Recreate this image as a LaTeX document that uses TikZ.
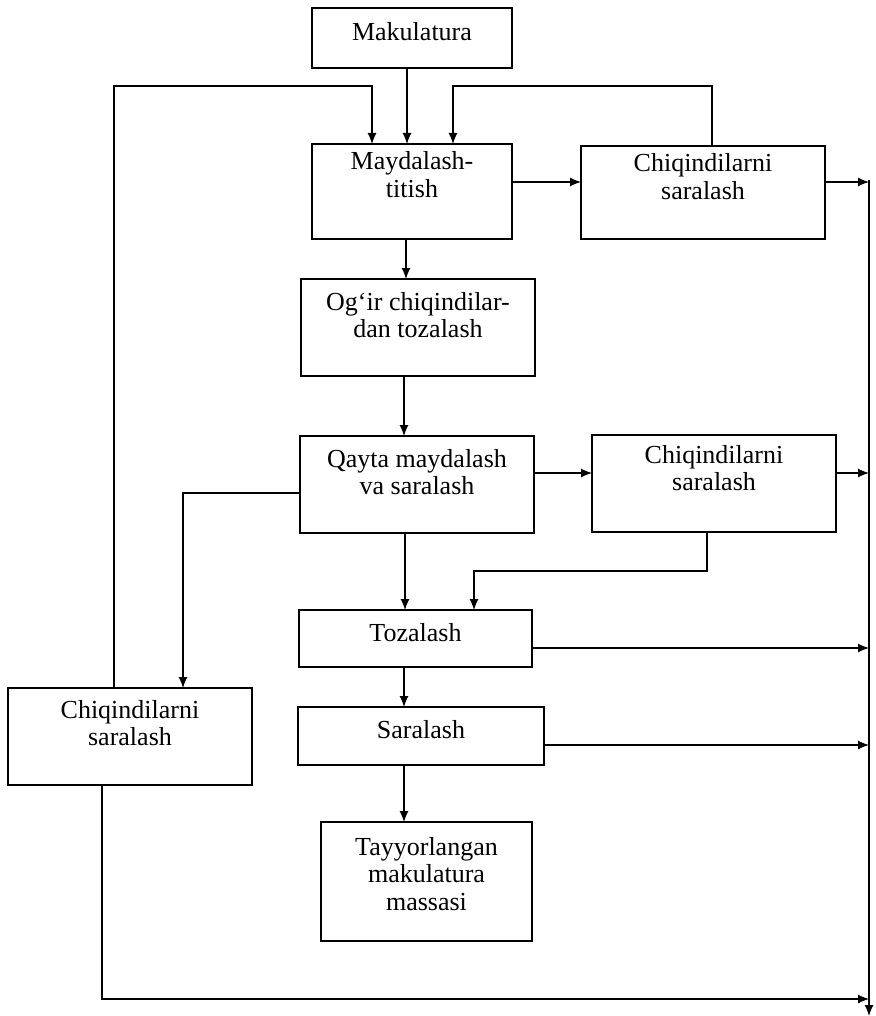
\documentclass[tikz,border=0pt]{standalone}
\usepackage{fontspec}
\setmainfont{Liberation Serif}
\usetikzlibrary{arrows.meta}
\newcommand\flowbox[7]{%
  \node[boxst, anchor=north west] (#1) at (#2,#3)
   {\parbox[c][\dimexpr #5pt-#3pt\relax][t]{\dimexpr #4pt-#2pt\relax}{\centering\rule{0pt}{#6pt}#7}};}
\tikzset{
  boxst/.style={draw, line width=1.2pt, inner sep=0pt, outer sep=0pt,
    font=\fontsize{26}{27.5}\selectfont},
  conn/.style={line width=1.2pt},
  arr/.style={conn, -{Latex[length=11pt,width=9pt]}}
}
\begin{document}
\begin{tikzpicture}[x=1pt,y=-1pt]
\useasboundingbox (0,0) rectangle (875,1016);
\flowbox{mak}{312}{8}{512}{68}{33}{Makulatura}
\flowbox{may}{312}{144}{512}{239}{26}{Maydalash-\\titish}
\flowbox{chqa}{581}{146}{825}{239}{26}{Chiqindilarni\\saralash}
\flowbox{ogir}{301}{279}{535}{376}{31}{Og‘ir chiqindilar-\\dan tozalash}
\flowbox{qayta}{300}{436}{534}{533}{31}{Qayta maydalash\\va saralash}
\flowbox{chqb}{592}{435}{836}{532}{28}{Chiqindilarni\\saralash}
\flowbox{toz}{299}{610}{532}{667}{31}{Tozalash}
\flowbox{sar}{298}{707}{544}{765}{31}{Saralash}
\flowbox{tay}{321}{822}{532}{941}{33}{Tayyorlangan\\makulatura\\massasi}
\flowbox{chqc}{8}{688}{252}{785}{30}{Chiqindilarni\\saralash}

\coordinate (rtop) at (869,180);
\coordinate (rbot) at (869,1016);

% main collector line on the right
\draw[arr] (rtop) -- (rbot);

% top inputs
\draw[arr] (mak.south -| 407,0) -- (may.north -| 407,0);
\draw[arr] (chqc.north -| 114,0) |- (372,86) -- (may.north -| 372,0);
\draw[arr] (chqa.north -| 712,0) |- (453,86) -- (may.north -| 453,0);

% row 1
\draw[arr] (may.east |- 0,182) -- (chqa.west |- 0,182);
\draw[arr] (chqa.east |- 0,182) -- (rtop |- 0,182);

% vertical chain
\draw[arr] (may.south -| 406,0) -- (ogir.north -| 406,0);
\draw[arr] (ogir.south -| 404,0) -- (qayta.north -| 404,0);
\draw[arr] (qayta.south -| 405,0) -- (toz.north -| 405,0);
\draw[arr] (toz.south -| 404,0) -- (sar.north -| 404,0);
\draw[arr] (sar.south -| 404,0) -- (tay.north -| 404,0);

% row 2
\draw[arr] (qayta.east |- 0,473) -- (chqb.west |- 0,473);
\draw[arr] (chqb.east |- 0,473) -- (rtop |- 0,473);
\draw[arr] (qayta.west |- 0,493) -| (chqc.north -| 183,0);
\draw[arr] (chqb.south -| 707,0) |- (474,571) -- (toz.north -| 474,0);

% outputs to collector
\draw[arr] (toz.east |- 0,648) -- (rtop |- 0,648);
\draw[arr] (sar.east |- 0,745) -- (rtop |- 0,745);
\draw[arr] (chqc.south -| 102,0) |- (rtop |- 0,999);
\end{tikzpicture}
\end{document}
